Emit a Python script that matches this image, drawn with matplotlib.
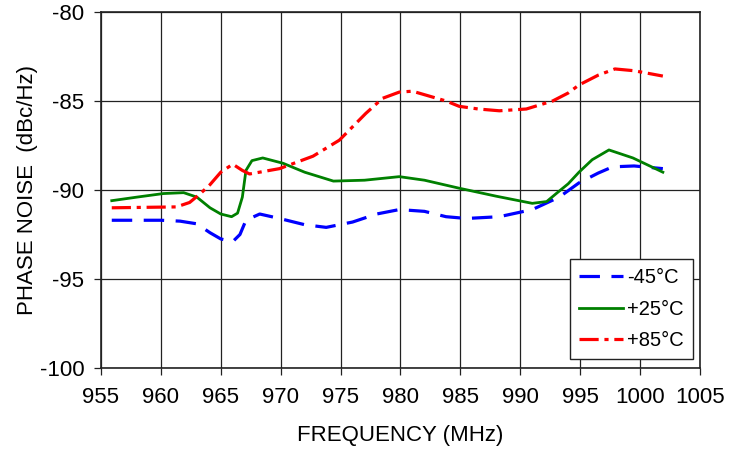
import matplotlib.pyplot as plt

plt.rcParams['font.family'] = ['Liberation Sans', 'DejaVu Sans']

# -45C
freq_cold = [955.9, 960.0, 961.6, 963.0, 964.1, 965.0, 966.0, 966.6, 967.1, 968.25, 969.9,
             972.0, 973.8, 976.0, 978.0, 979.9, 982.0, 983.8, 985.5, 988.25, 991.0,
             993.25, 994.9, 996.5, 997.7, 999.5, 1001.9]
pn_cold = [-91.7, -91.7, -91.75, -91.9, -92.4, -92.75, -92.9, -92.5, -91.7, -91.35, -91.6,
           -91.95, -92.1, -91.8, -91.35, -91.1, -91.2, -91.5, -91.6, -91.5, -91.1,
           -90.4, -89.6, -89.05, -88.7, -88.65, -88.8]

# +25C
freq_room = [955.9, 958.0, 960.2, 961.9, 963.0, 964.1, 965.0, 965.9, 966.4, 966.8, 967.1,
             967.6, 968.5, 970.2, 972.0, 974.4, 977.0, 979.9, 982.0, 984.9, 988.0,
             991.0, 992.2, 993.0, 994.0, 994.9, 996.0, 997.4, 999.4, 1001.9]
pn_room = [-90.6, -90.4, -90.2, -90.15, -90.4, -91.0, -91.35, -91.5, -91.3, -90.4, -88.9,
           -88.35, -88.2, -88.5, -89.0, -89.5, -89.45, -89.25, -89.45, -89.9, -90.35,
           -90.75, -90.65, -90.2, -89.65, -89.0, -88.3, -87.75, -88.2, -89.0]

# +85C
freq_hot = [955.9, 961.3, 962.4, 963.3, 964.1, 965.0, 966.0, 966.8, 967.4, 969.9, 972.7,
            974.9, 976.0, 977.1, 978.5, 979.9, 981.0, 983.8, 984.9, 986.5, 988.25,
            990.5, 992.7, 994.0, 994.9, 996.5, 997.9, 999.5, 1001.9]
pn_hot = [-91.0, -90.95, -90.7, -90.2, -89.7, -89.0, -88.55, -88.9, -89.1, -88.8, -88.1,
          -87.2, -86.45, -85.7, -84.85, -84.5, -84.45, -85.0, -85.3, -85.45, -85.55,
          -85.45, -85.0, -84.55, -84.1, -83.55, -83.2, -83.3, -83.6]

x_ticks = list(range(955, 1006, 5))
y_ticks = [-100, -95, -90, -85, -80]

fig = plt.figure(figsize=(7.42, 4.49), dpi=100)
ax = fig.add_axes([0.1361, 0.1804, 0.8073, 0.7929])

ax.plot(freq_cold, pn_cold, color='#0000ff', lw=2.3, ls=(0, (6.4, 3.6)), label='-45°C')
ax.plot(freq_room, pn_room, color='#008000', lw=2.0, label='+25°C')
ax.plot(freq_hot, pn_hot, color='#ff0000', lw=2.3, ls=(0, (6, 1.8, 1.3, 1.8)), label='+85°C')

ax.set_xlim(955, 1005)
ax.set_ylim(-100, -80)
ax.set_xticks(x_ticks)
ax.set_yticks(y_ticks)
ax.set_yticklabels([str(v) for v in y_ticks])
ax.grid(True, color='#222222', lw=0.9)
ax.tick_params(labelsize=16, length=5, width=0.9, color='#222222')
ax.tick_params(axis='x', pad=9)
ax.tick_params(axis='y', pad=7)
for s in ax.spines.values():
    s.set_color('#222222')
    s.set_linewidth(1.2)

ax.set_xlabel('FREQUENCY (MHz)', fontsize=16, labelpad=12)
ax.set_ylabel('PHASE NOISE  (dBc/Hz)', fontsize=16, labelpad=1)

leg = ax.legend(loc='lower right', fontsize=14.5, fancybox=False, framealpha=1,
                edgecolor='#222222', handlelength=2.2, handletextpad=0.2,
                labelspacing=0.62, borderpad=0.45, borderaxespad=0,
                bbox_to_anchor=(0.988, 0.025))
leg.get_frame().set_linewidth(1.0)

fig.savefig('out.png', dpi=100)
